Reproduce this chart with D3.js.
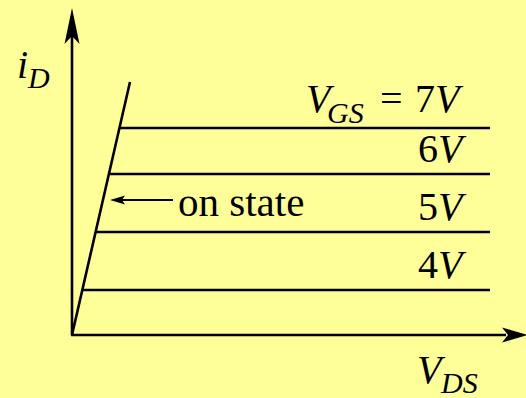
<!DOCTYPE html>
<html>
<head>
<meta charset="utf-8">
<script src="https://cdn.jsdelivr.net/npm/d3@7"></script>
</head>
<body style="margin:0;background:#FFFF99">
<svg id="chart" width="526" height="398"></svg>
<script>
// Gate-source voltages and the saturation drain current each one settles at
const vgsLabels = ["4", "5", "6", "7"];
const satCurrent = [2.25, 5.15, 8.05, 10.35];
// On-state (ohmic) line through the origin: VDS and iD at its two ends
const onStateVds = [0, 2.9];
const onStateId = [0, 12.65];
// Where the saturation curves end along VDS
const curveEndVds = 20.9;
// Axis extents
const vdsMax = 22.7;
const idMax = 16.35;

const face = "serif";

const svg = d3.select("#chart");

const x = d3.scaleLinear().domain([0, vdsMax]).range([72, 526]);
const y = d3.scaleLinear().domain([0, idMax]).range([335, 8]);

const ink = "#000";
const sw = 2.6;

// Axes drawn as plain arrows (no ticks)
svg.append("line")
  .attr("x1", x(0)).attr("y1", y(0))
  .attr("x2", x(0)).attr("y2", y(idMax) + 20)
  .attr("stroke", ink).attr("stroke-width", sw);
svg.append("line")
  .attr("x1", x(0) - 1).attr("y1", y(0))
  .attr("x2", x(vdsMax) - 20).attr("y2", y(0))
  .attr("stroke", ink).attr("stroke-width", sw);

// Dart-shaped arrowhead pointing along angle (radians), tip at (tx, ty)
function arrowHead(tx, ty, angle, len, half, notch) {
  const c = Math.cos(angle), s = Math.sin(angle);
  const pt = (a, b) => [tx - a * c - b * s, ty - a * s + b * c];
  const p = [pt(0, 0), pt(len, half), pt(len - notch, 0), pt(len, -half)];
  svg.append("path")
    .attr("d", "M" + p.map(q => q.join(",")).join("L") + "Z")
    .attr("fill", ink);
}
arrowHead(x(0), y(idMax), -Math.PI / 2, 36, 7.5, 8);
arrowHead(x(vdsMax) + 2, y(0), 0, 26, 7.5, 6);

// On-state line
const slope = onStateVds[1] / onStateId[1];
svg.append("line")
  .attr("x1", x(onStateVds[0])).attr("y1", y(onStateId[0]))
  .attr("x2", x(onStateVds[1])).attr("y2", y(onStateId[1]))
  .attr("stroke", ink).attr("stroke-width", sw);

// Saturation curves, one per gate voltage, starting on the on-state line
svg.selectAll("line.sat")
  .data(satCurrent)
  .join("line")
  .attr("class", "sat")
  .attr("x1", d => x(d * slope))
  .attr("y1", d => y(d))
  .attr("x2", x(curveEndVds))
  .attr("y2", d => y(d))
  .attr("stroke", ink).attr("stroke-width", sw);

// One <text> per piece of a label
function piece(px, py, size, s, italic) {
  return svg.append("text")
    .attr("x", px).attr("y", py)
    .attr("font-size", size)
    .attr("font-family", face)
    .attr("font-style", italic ? "italic" : null)
    .text(s);
}

// Curve labels
vgsLabels.slice(0, 3).forEach((v, i) => {
  const by = y(satCurrent[i]) - 12;
  piece(418, by, 40, v, false);
  piece(438, by, 40, "V", true);
});

// Top label: V_GS = 7V
{
  const base = y(satCurrent[3]) - 16;
  piece(306, base, 40, "V", true);
  piece(327, base + 11, 30, "GS", true);
  piece(380, base, 40, "=", false);
  piece(415, base, 40, vgsLabels[3], false);
  piece(435, base, 40, "V", true);
}

// Axis titles
piece(17, 78, 40, "i", true);
piece(28, 88, 30, "D", true);
piece(417, 383, 40, "V", true);
piece(441, 393, 30, "DS", true);

// "on state" annotation pointing at the on-state line
{
  const ay = 200;
  svg.append("line")
    .attr("x1", 173).attr("y1", ay).attr("x2", 118).attr("y2", ay)
    .attr("stroke", ink).attr("stroke-width", 2.2);
  arrowHead(110, ay, Math.PI, 15, 4.5, 3);
  piece(178, 216, 41, "on state", false);
}
</script>
</body>
</html>
